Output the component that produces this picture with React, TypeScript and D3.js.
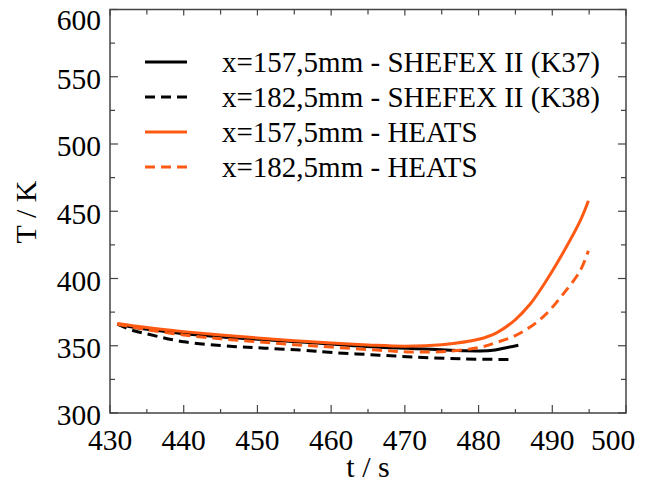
import React from "react";
import * as d3 from "d3";

const xTicks = [430, 440, 450, 460, 470, 480, 490, 500];
const yTicks = [300, 350, 400, 450, 500, 550, 600];

const k37T = [431, 433, 435.4, 440, 446.7, 455.8, 466.6, 471, 477.9, 481.6, 483.6, 485.4];
const k37V = [366, 364, 362, 359, 356, 352.8, 348.9, 348, 346.3, 346.5, 348.4, 350.4];

const k38T = [431, 433, 435.4, 440, 446.7, 451, 455.8, 460.3, 466.6, 471, 477.9, 484.7];
const k38V = [366, 361.5, 358.3, 353, 349.5, 348.2, 346.8, 344.9, 343, 341.7, 340.2, 339.8];

const h157T = [431, 435, 440, 445, 450, 455, 460, 465, 470, 475, 480, 482.5, 485, 487, 489.2, 491.5, 493.8, 494.9];
const h157V = [366.5, 363.5, 360.5, 358, 355.8, 353.8, 352, 350.6, 349.7, 350.8, 354.8, 359.8, 369.5, 381, 398.5, 419.5, 443, 457.8];

const h182T = [431, 435, 440, 445, 450, 455, 460, 466.6, 471, 475.7, 480.2, 482.5, 484.7, 487, 489.2, 491.5, 493.8, 494.9];
const h182V = [366, 362, 358, 355.2, 353, 350.8, 349, 346.6, 345.4, 345.8, 348.8, 352.6, 356.8, 363.9, 373.8, 388.6, 405.9, 420.7];

const legendLabels = [
  "x=157,5mm - SHEFEX II (K37)",
  "x=182,5mm - SHEFEX II (K38)",
  "x=157,5mm - HEATS",
  "x=182,5mm - HEATS",
];

const ORANGE = "#ff5a14";
const FONT = "'Liberation Serif', 'Times New Roman', serif";

export default function App() {
  const W = 647, H = 482;
  const left = 110, right = 626, top = 9.5, bottom = 413;
  const x = d3.scaleLinear().domain([430, 500]).range([left, right]);
  const y = d3.scaleLinear().domain([300, 600]).range([bottom, top]);

  const line = d3
    .line<[number, number]>()
    .x((d) => x(d[0]))
    .y((d) => y(d[1]))
    .curve(d3.curveCatmullRom.alpha(0.5));

  const zip = (a: number[], b: number[]) => a.map((t, i) => [t, b[i]] as [number, number]);

  const series = [
    { d: zip(k37T, k37V), color: "#000", dash: "none" },
    { d: zip(k38T, k38V), color: "#000", dash: "10,6" },
    { d: zip(h157T, h157V), color: ORANGE, dash: "none" },
    { d: zip(h182T, h182V), color: ORANGE, dash: "10,6" },
  ];

  const xMinor = d3.range(435, 500, 10);
  const yMinor = d3.range(325, 600, 50);
  const axisColor = "#444";

  return (
    <svg width={W} height={H} style={{ position: "absolute", left: 0, top: 0, background: "#fff" }}>
      {series.map((s, i) => (
        <path
          key={i}
          d={line(s.d) || ""}
          fill="none"
          stroke={s.color}
          strokeWidth={3}
          strokeDasharray={s.dash}
        />
      ))}
      <rect x={left} y={top} width={right - left} height={bottom - top} fill="none" stroke={axisColor} strokeWidth={1.5} />
      {xTicks.map((t) => (
        <g key={"xt" + t}>
          <line x1={x(t)} x2={x(t)} y1={bottom} y2={bottom - 8} stroke={axisColor} strokeWidth={1.2} />
          <line x1={x(t)} x2={x(t)} y1={top} y2={top + 6} stroke={axisColor} strokeWidth={1.2} />
          <text x={Math.min(x(t), 613)} y={450} textAnchor="middle" fontFamily={FONT} fontSize={29.5} fill="#000">
            {t}
          </text>
        </g>
      ))}
      {xMinor.map((t) => (
        <g key={"xm" + t}>
          <line x1={x(t)} x2={x(t)} y1={bottom} y2={bottom - 4} stroke={axisColor} strokeWidth={1.2} />
          <line x1={x(t)} x2={x(t)} y1={top} y2={top + 5} stroke={axisColor} strokeWidth={1.2} />
        </g>
      ))}
      {yTicks.map((v) => (
        <g key={"yt" + v}>
          <line x1={left} x2={left + 8} y1={y(v)} y2={y(v)} stroke={axisColor} strokeWidth={1.2} />
          <line x1={right} x2={right - 8} y1={y(v)} y2={y(v)} stroke={axisColor} strokeWidth={1.2} />
          <text
            x={101}
            y={Math.max(y(v) + 2, 20)}
            dy="0.35em"
            textAnchor="end"
            fontFamily={FONT}
            fontSize={29.5}
            fill="#000"
          >
            {v}
          </text>
        </g>
      ))}
      {yMinor.map((v) => (
        <g key={"ym" + v}>
          <line x1={left} x2={left + 5} y1={y(v)} y2={y(v)} stroke={axisColor} strokeWidth={1.2} />
          <line x1={right} x2={right - 5} y1={y(v)} y2={y(v)} stroke={axisColor} strokeWidth={1.2} />
        </g>
      ))}
      <text x={368} y={477} textAnchor="middle" fontFamily={FONT} fontSize={30} fill="#000">
        t / s
      </text>
      <text
        transform={`translate(36, 212) rotate(-90)`}
        textAnchor="middle"
        fontFamily={FONT}
        fontSize={30}
        fill="#000"
      >
        T / K
      </text>
      {legendLabels.map((lab, i) => {
        const ly = 62 + i * 35;
        const s = series[i];
        return (
          <g key={"lg" + i}>
            <line x1={145} x2={187} y1={ly} y2={ly} stroke={s.color} strokeWidth={3} strokeDasharray={s.dash === "none" ? "none" : "10,6"} />
            <text x={222} y={ly} dy="0.35em" fontFamily={FONT} fontSize={29} fill="#000">
              {lab}
            </text>
          </g>
        );
      })}
    </svg>
  );
}
